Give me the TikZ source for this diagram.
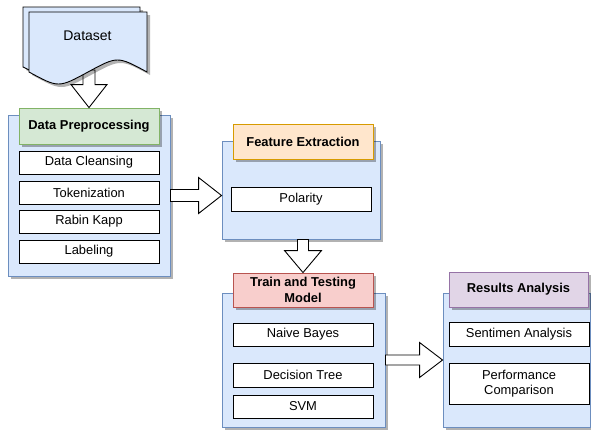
\documentclass[tikz,border=0pt]{standalone}
\usepackage{fontspec}
\setmainfont{Liberation Sans}
\usetikzlibrary{shadows,calc}
\definecolor{bluefill}{HTML}{DAE8FC}
\definecolor{bluedraw}{HTML}{6C8EBF}
\definecolor{greenfill}{HTML}{D5E8D4}
\definecolor{greendraw}{HTML}{82B366}
\definecolor{orangefill}{HTML}{FFE6CC}
\definecolor{orangedraw}{HTML}{D79B00}
\definecolor{redfill}{HTML}{F8CECC}
\definecolor{reddraw}{HTML}{B85450}
\definecolor{purplefill}{HTML}{E1D5E7}
\definecolor{purpledraw}{HTML}{9673A6}
\tikzset{
  shd/.style={drop shadow={shadow xshift=3pt,shadow yshift=-3pt,fill=black,opacity=0.3}},
  container/.style={shd,draw=bluedraw,fill=bluefill,line width=0.9pt,inner sep=0pt},
  header/.style={shd,line width=0.9pt,font=\bfseries\fontsize{12.9}{16}\selectfont,align=center,inner sep=0pt,minimum height=35pt},
  item/.style={draw=black,fill=white,line width=0.9pt,font=\fontsize{12.9}{15.5}\selectfont,align=center,minimum width=140pt,inner sep=0pt},
  docsheet/.style={shd,draw=black,fill=bluefill,line width=0.9pt},
  barrow/.style={draw=black,fill=white,line width=0.9pt,line join=miter},
}
\begin{document}
\begin{tikzpicture}[x=1pt,y=-1pt]
\useasboundingbox (0,0) rectangle (591,429);

% containers
\node[container,minimum width=162pt,minimum height=161pt] (dpc) at (89,195.5) {};
\node[container,minimum width=158pt,minimum height=98pt] (fec) at (301,190) {};
\node[container,minimum width=163pt,minimum height=134pt] (ttc) at (303.5,360) {};
\node[container,minimum width=147pt,minimum height=134pt] (rac) at (516.5,360) {};

% headers
\node[header,draw=greendraw,fill=greenfill,minimum width=140pt,minimum height=36pt] (dph) at (89,126) {Data Preprocessing};
\node[header,draw=orangedraw,fill=orangefill,minimum width=140pt] (feh) at (303,141.5) {Feature Extraction};
\node[header,draw=reddraw,fill=redfill,minimum width=140pt,minimum height=34pt] (tth) at (303,290) {Train and Testing\\Model};
\node[header,draw=purpledraw,fill=purplefill,minimum width=139pt] (rah) at (518.5,289.5) {Results Analysis};

% items
\node[item,minimum height=23pt] (dc) at (89,162.5) {Data Cleansing};
\node[item,minimum height=23pt] (tk) at (89,192.5) {Tokenization};
\node[item,minimum height=23pt] (rk) at (89,221.5) {Rabin Kapp};
\node[item,minimum height=23pt] (lb) at (89,251.5) {Labeling};
\node[item,minimum height=24pt] (pol) at (301,199) {Polarity};
\node[item,minimum height=23pt] (nb) at (303,334.5) {Naive Bayes};
\node[item,minimum height=24pt] (dt) at (303,375) {Decision Tree};
\node[item,minimum height=23pt] (svm) at (303,406.5) {SVM};
\node[item,minimum height=24pt] (sa) at (519,334) {Sentimen Analysis};
\node[item,minimum height=41pt] (pc) at (519,383.5) {Performance\\Comparison};

% arrow from dataset to preprocessing (drawn below the document)
\coordinate (docb) at (89,70);
\draw[barrow] let \p1=(docb), \p2=(dph.north) in
  (\x2-6,\y1) -- (\x2-6,\y2+23) -- (\x2-18,\y2+23) -- (\x2,\y2) -- (\x2+18,\y2+23) -- (\x2+6,\y2+23) -- (\x2+6,\y1) -- cycle;

% dataset document
\draw[docsheet] (23,7) -- (140,7) -- (140,67) .. controls (111,53) .. (82,67) .. controls (52,81) .. (23,67) -- cycle;
\draw[docsheet] (29,12) -- (147,12) -- (147,72) .. controls (117.5,56) .. (88,72) .. controls (58.5,88) .. (29,72) -- cycle;
\node[font=\fontsize{14}{16}\selectfont] (ds) at (87.5,36) {Dataset};

% block arrows
\draw[barrow] let \p1=(dpc.east), \p2=(fec.west) in
  (\x1,\y1+6) -- (\x2-23,\y1+6) -- (\x2-23,\y1+18) -- (\x2,\y1) -- (\x2-23,\y1-18) -- (\x2-23,\y1-6) -- (\x1,\y1-6) -- cycle;
\draw[barrow] let \p1=(fec.south), \p2=(tth.north) in
  (\x2-5.5,\y1) -- (\x2-5.5,\y2+22) -- (\x2-18.5,\y2+22) -- (\x2,\y2) -- (\x2+18.5,\y2+22) -- (\x2+5.5,\y2+22) -- (\x2+5.5,\y1) -- cycle;
\draw[barrow] let \p1=(ttc.east), \p2=(rac.west) in
  (\x1,\y1+5) -- (\x2-23,\y1+5) -- (\x2-23,\y1+17.5) -- (\x2,\y1) -- (\x2-23,\y1-17.5) -- (\x2-23,\y1-5) -- (\x1,\y1-5) -- cycle;
\end{tikzpicture}
\end{document}
